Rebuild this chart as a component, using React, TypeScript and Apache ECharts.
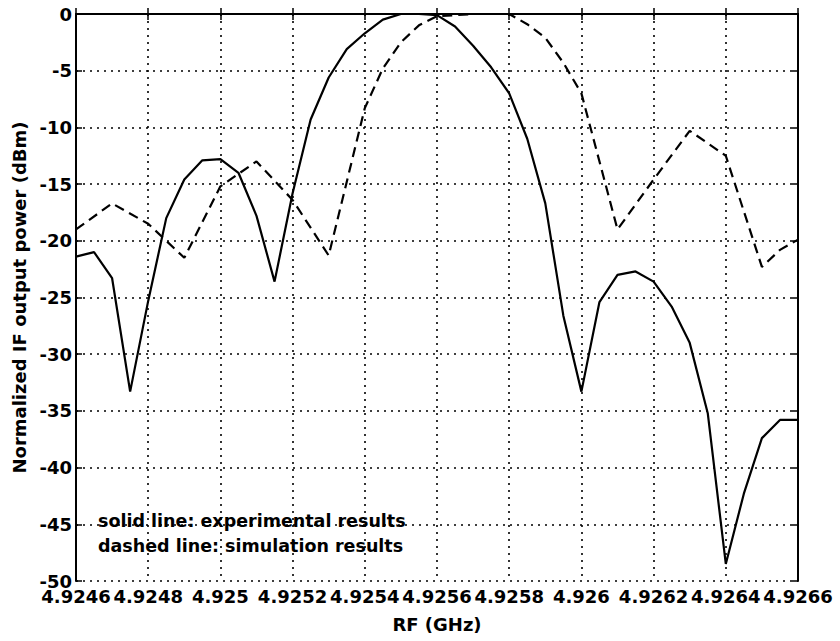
import React, { useEffect, useRef } from "react";
import * as echarts from "echarts";

// Measured IF response (solid line)
const expFreq = [
  4.9246, 4.92465, 4.9247, 4.92475, 4.9248, 4.92485, 4.9249, 4.92495, 4.925,
  4.92505, 4.9251, 4.92515, 4.9252, 4.92525, 4.9253, 4.92535, 4.9254, 4.92545,
  4.9255, 4.92555, 4.9256, 4.92565, 4.9257, 4.92575, 4.9258, 4.92585, 4.9259,
  4.92595, 4.926, 4.92605, 4.9261, 4.92615, 4.9262, 4.92625, 4.9263, 4.92635,
  4.9264, 4.92645, 4.9265, 4.92655, 4.9266,
];
const expPower = [
  -21.4, -21.0, -23.3, -33.3, -25.3, -18.0, -14.6, -12.9, -12.8,
  -14.0, -17.8, -23.6, -15.8, -9.3, -5.6, -3.1, -1.7, -0.5,
  0, 0, -0.1, -1.1, -2.8, -4.7, -7.0, -11.0, -16.7,
  -26.6, -33.3, -25.4, -23.0, -22.7, -23.6, -25.8, -29.0, -35.2,
  -48.5, -42.3, -37.4, -35.8, -35.8,
];

// Simulated IF response (dashed line)
const simFreq = [
  4.9246, 4.9247, 4.9248, 4.9249, 4.925, 4.9251, 4.9252, 4.9253, 4.9254,
  4.92545, 4.9255, 4.92555, 4.9256, 4.9257, 4.9258, 4.92585, 4.9259, 4.92595,
  4.926, 4.9261, 4.9262, 4.9263, 4.9264, 4.9265, 4.92655, 4.9266,
];
const simPower = [
  -19.0, -16.7, -18.5, -21.5, -15.2, -13.0, -16.4, -21.3, -8.3,
  -4.8, -2.5, -1.0, -0.2, 0, 0, -0.9, -2.1, -4.3,
  -7.0, -19.0, -14.6, -10.3, -12.5, -22.3, -20.8, -19.9,
];

const noteLines = [
  "solid line: experimental results",
  "dashed line: simulation results",
];

const FONT = "DejaVu Sans";

export default function App() {
  const ref = useRef<HTMLDivElement>(null);

  useEffect(() => {
    if (!ref.current) return;
    const chart = echarts.init(ref.current, undefined, { renderer: "svg" });

    const frame = { show: true, lineStyle: { color: "#000", width: 2 } };
    const tick = { show: true, inside: true, length: 6, lineStyle: { color: "#000", width: 1.5 } };
    const dotted = { show: true, lineStyle: { color: "#000", width: 1.6, type: [2, 5] as number[] } };
    const labelStyle = {
      color: "#000",
      fontFamily: FONT,
      fontWeight: "bold" as const,
      fontSize: 18,
    };
    const fmtX = (v: number) => String(parseFloat(v.toFixed(5)));

    chart.setOption({
      animation: false,
      backgroundColor: "#fff",
      grid: { left: 76, top: 14, right: 42, bottom: 60 },
      xAxis: [
        {
          type: "value",
          position: "bottom",
          min: 4.9246,
          max: 4.9266,
          interval: 0.0002,
          axisLine: frame,
          axisTick: tick,
          splitLine: dotted,
          axisLabel: {
            ...labelStyle,
            margin: 6,
            formatter: fmtX,
            showMinLabel: true,
            showMaxLabel: true,
          },
          name: "RF (GHz)",
          nameLocation: "middle",
          nameGap: 34,
          nameTextStyle: { ...labelStyle },
        },
        {
          type: "value",
          position: "top",
          min: 4.9246,
          max: 4.9266,
          interval: 0.0002,
          axisLine: frame,
          axisTick: tick,
          axisLabel: { show: false },
          splitLine: { show: false },
        },
      ],
      yAxis: [
        {
          type: "value",
          position: "left",
          min: -50,
          max: 0,
          interval: 5,
          axisLine: frame,
          axisTick: tick,
          splitLine: dotted,
          axisLabel: { ...labelStyle, margin: 4, showMinLabel: true, showMaxLabel: true },
          name: "Normalized IF output power (dBm)",
          nameLocation: "middle",
          nameGap: 36,
          nameTextStyle: { ...labelStyle },
        },
        {
          type: "value",
          position: "right",
          min: -50,
          max: 0,
          interval: 5,
          axisLine: frame,
          axisTick: tick,
          axisLabel: { show: false },
          splitLine: { show: false },
        },
      ],
      series: [
        {
          name: "experimental",
          type: "line",
          xAxisIndex: 0,
          yAxisIndex: 0,
          showSymbol: false,
          data: expFreq.map((f, i) => [f, expPower[i]]),
          lineStyle: { color: "#000", width: 2.2 },
        },
        {
          name: "simulation",
          type: "line",
          xAxisIndex: 0,
          yAxisIndex: 0,
          showSymbol: false,
          data: simFreq.map((f, i) => [f, simPower[i]]),
          lineStyle: { color: "#000", width: 2.2, type: [10, 6] },
        },
      ],
      graphic: noteLines.map((t, i) => ({
        type: "text",
        x: 98,
        y: 521 + i * 25,
        z: 10,
        style: {
          text: t,
          fill: "#000",
          font: `bold 17.5px "${FONT}"`,
          verticalAlign: "middle",
          align: "left",
        },
      })),
    });

    return () => chart.dispose();
  }, []);

  return (
    <div
      ref={ref}
      style={{ position: "fixed", left: 0, top: 0, width: 840, height: 641 }}
    />
  );
}
